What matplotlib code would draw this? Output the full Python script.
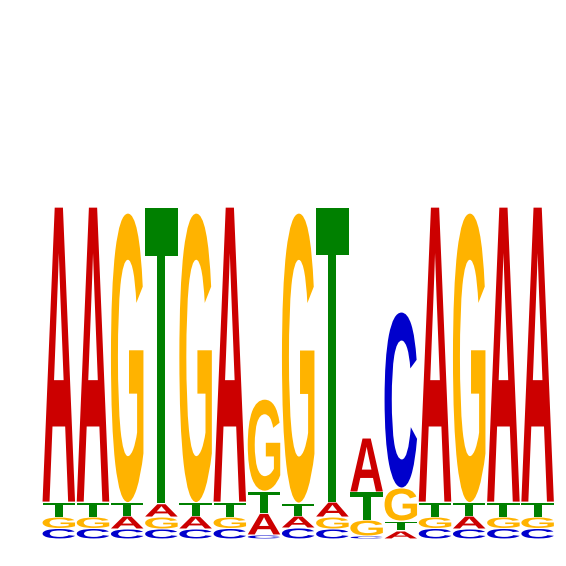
import matplotlib
matplotlib.use('Agg')
import matplotlib.pyplot as plt
from matplotlib.textpath import TextPath
from matplotlib.patches import PathPatch
from matplotlib.font_manager import FontProperties
from matplotlib.transforms import Affine2D

# letter heights (bits) per position
positions = list(range(1, 16))
A = [1.777, 1.777, 0.078, 0.080, 0.078, 1.777, 0.130, 0.072, 0.090, 0.325, 0.048, 1.777, 0.078, 1.777, 1.777]
C = [0.063, 0.063, 0.060, 0.060, 0.060, 0.063, 0.024, 0.066, 0.060, 0.018, 1.060, 0.063, 0.060, 0.063, 0.063]
G = [0.069, 0.069, 1.744, 0.072, 1.744, 0.069, 0.554, 1.747, 0.072, 0.096, 0.199, 0.069, 1.744, 0.069, 0.069]
T = [0.090, 0.090, 0.081, 1.783, 0.081, 0.090, 0.134, 0.078, 1.777, 0.169, 0.060, 0.090, 0.081, 0.090, 0.090]

heights = {'A': A, 'C': C, 'G': G, 'T': T}
colors = {'A': '#CC0000', 'C': '#0000CC', 'G': '#FFB300', 'T': '#008000'}

font = FontProperties(family='Liberation Sans', weight='bold')
glyphs = {b: TextPath((0, 0), b, size=1, prop=font) for b in 'ACGT'}


def draw_letter(ax, base, x0, y0, w, h):
    path = glyphs[base]
    bb = path.get_extents()
    tr = (Affine2D().translate(-bb.x0, -bb.y0)
          .scale(w / bb.width, h / bb.height)
          .translate(x0, y0))
    ax.add_patch(PathPatch(tr.transform_path(path), facecolor=colors[base],
                           edgecolor='none'))


fig = plt.figure(figsize=(5.66, 5.66), dpi=100)
ax = fig.add_axes([0, 0, 1, 1])
ax.set_xlim(-1.219, 15.330)
ax.set_ylim(-0.163, 3.247)
ax.axis('off')

width = 0.95
pad = 0.003
for i, pos in enumerate(positions):
    stack = sorted('ACGT', key=lambda b: heights[b][i])
    y = 0.0
    for b in stack:
        h = heights[b][i]
        if h > 2 * pad:
            draw_letter(ax, b, i + (1 - width) / 2, y + pad, width, h - 2 * pad)
        y += h

fig.savefig('out.png', dpi=100)
